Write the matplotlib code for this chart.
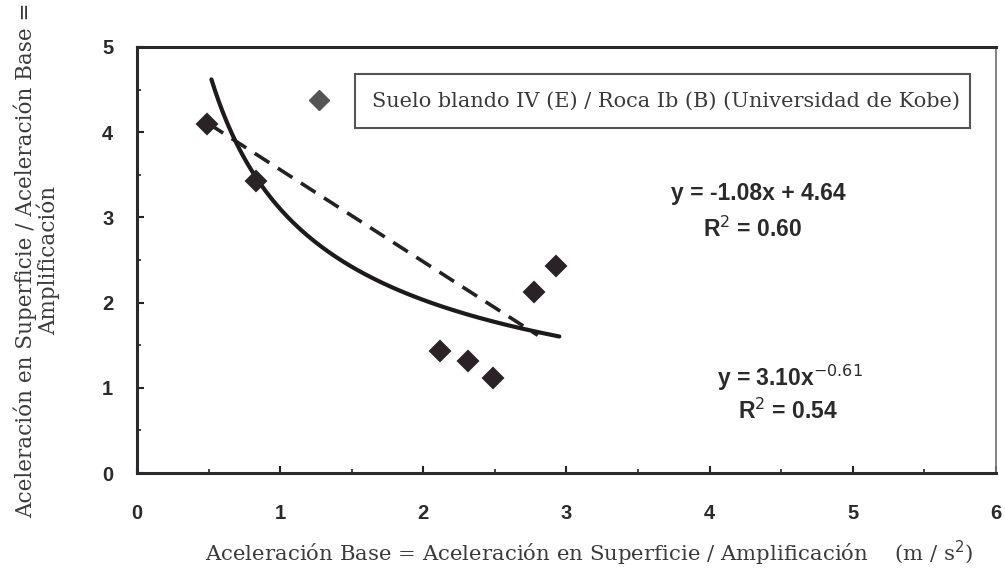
import numpy as np
import matplotlib
matplotlib.use("Agg")
import matplotlib.pyplot as plt
from matplotlib.lines import Line2D
from matplotlib.patches import Rectangle

# Data
x_vals = [0.49, 0.83, 2.12, 2.31, 2.49, 2.77, 2.93]
y_vals = [4.10, 3.43, 1.43, 1.32, 1.11, 2.13, 2.43]
lin_coef = [-1.08, 4.64]      # slope, intercept
lin_range = [0.5, 2.8]
pow_coef = [3.10, -0.61]      # a, b  (y = a x^b)
pow_range = [0.52, 2.95]
legend_label = "Suelo blando IV (E) / Roca Ib (B) (Universidad de Kobe)"
xticks = [0, 1, 2, 3, 4, 5, 6]
yticks = [0, 1, 2, 3, 4, 5]

fig = plt.figure(figsize=(10.05, 5.71), dpi=100)
ax = fig.add_axes([0.1363, 0.1716, 0.991 - 0.1363, 0.9177 - 0.1716])

# fit lines
xl = np.linspace(*lin_range, 50)
ax.plot(xl, lin_coef[0] * xl + lin_coef[1], color="#222222", lw=2.6,
        dashes=(4.8, 2.8), zorder=2)
xp = np.linspace(*pow_range, 200)
ax.plot(xp, pow_coef[0] * xp ** pow_coef[1], color="#1e1a1c", lw=3.0,
        solid_capstyle="round", zorder=2)

# points
ax.plot(x_vals, y_vals, linestyle="none", marker="D", markersize=10.5,
        color="#2a2226", markeredgewidth=1.5, markeredgecolor="#2a2226",
        zorder=3)

ax.set_xlim(0, 6)
ax.set_ylim(0, 5)
ax.set_xticks(xticks)
ax.set_yticks(yticks)
ax.set_xticks(np.arange(0.5, 6, 1.0), minor=True)
ax.set_yticks(np.arange(0.5, 5, 1.0), minor=True)
tick_font = dict(family="Liberation Sans", weight="bold", size=14.5)
ax.set_xticklabels([str(t) for t in xticks], fontdict=tick_font, color="#2a2a2a")
ax.set_yticklabels([str(t) for t in yticks], fontdict=tick_font, color="#2a2a2a")
ax.tick_params(axis="both", which="both", direction="in", color="#222222")
ax.tick_params(axis="x", which="major", length=5, width=1.5, pad=22)
ax.tick_params(axis="y", which="major", length=5, width=1.5, pad=17)
ax.tick_params(axis="both", which="minor", length=3, width=1.2)

for side in ["left", "bottom", "top"]:
    ax.spines[side].set_linewidth(2.2)
    ax.spines[side].set_color("#2a2a2e")
ax.spines["right"].set_linewidth(1.3)
ax.spines["right"].set_color("#777777")

serif = "DejaVu Serif"
ax.set_xlabel("Aceleración Base = Aceleración en Superficie / Amplificación    (m / s$^2$)",
              family=serif, size=15.3, color="#3a3a3a", labelpad=12)
ax.xaxis.label.set_x(0.527)
ax.set_ylabel("Aceleración en Superficie / Aceleración Base =\nAmplificación",
              family=serif, size=15.5, color="#3a3a3a", labelpad=30, linespacing=1.0)

# legend: marker outside box, text inside box
ax.add_line(Line2D([0.212], [0.876], transform=ax.transAxes, marker="D",
                   markersize=10, color="#555555", linestyle="none"))
ax.add_patch(Rectangle((0.2538, 0.810), 0.9697 - 0.2538, 0.937 - 0.810,
                       transform=ax.transAxes, fc="white", ec="#555555",
                       lw=1.5, zorder=4))
ax.text(0.2736, 0.873, legend_label, transform=ax.transAxes, family=serif,
        size=15, color="#3a3a3a", va="center", ha="left", zorder=5)

# equations
eq_font = dict(family="Liberation Sans", weight="bold", size=16.5, color="#2a2a2a")
ax.text(4.34, 3.28, "y = -1.08x + 4.64", ha="center", va="center", **eq_font)
ax.text(4.30, 2.86, "R$^2$ = 0.60", ha="center", va="center", **eq_font)
ax.text(4.56, 1.12, "y = 3.10x$^{-0.61}$", ha="center", va="center", **eq_font)
ax.text(4.55, 0.72, "R$^2$ = 0.54", ha="center", va="center", **eq_font)

fig.savefig("out.png", dpi=100, facecolor="white")
